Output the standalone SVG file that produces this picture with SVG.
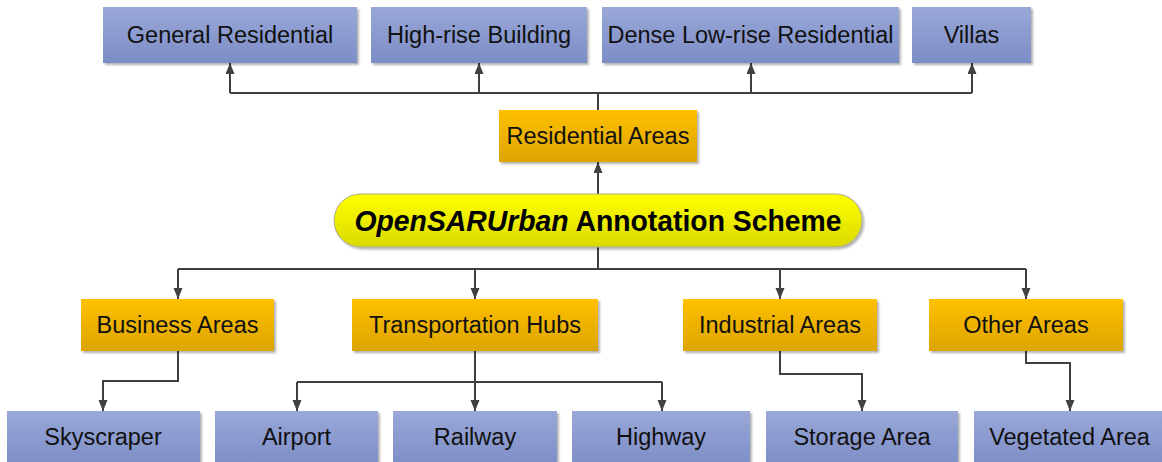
<svg xmlns="http://www.w3.org/2000/svg" width="1162" height="462" viewBox="0 0 1162 462">
<defs>
<linearGradient id="gBlue" x1="0" y1="0" x2="0" y2="1">
<stop offset="0" stop-color="#9AA8D8"/><stop offset="1" stop-color="#7C8DC6"/>
</linearGradient>
<linearGradient id="gOrange" x1="0" y1="0" x2="0" y2="1">
<stop offset="0" stop-color="#FFC000"/><stop offset="1" stop-color="#DCA500"/>
</linearGradient>
<linearGradient id="gYellow" x1="0" y1="0" x2="0" y2="1">
<stop offset="0" stop-color="#FFFF00"/><stop offset="1" stop-color="#DADA00"/>
</linearGradient>
<filter id="shadow" x="-5%" y="-10%" width="115%" height="130%">
<feGaussianBlur in="SourceAlpha" stdDeviation="1.2"/>
<feOffset dx="2" dy="2" result="b"/>
<feComponentTransfer><feFuncA type="linear" slope="0.3"/></feComponentTransfer>
<feMerge><feMergeNode/><feMergeNode in="SourceGraphic"/></feMerge>
</filter>
<marker id="arr" markerUnits="userSpaceOnUse" markerWidth="12" markerHeight="10" refX="11" refY="4.5" orient="auto">
<path d="M0,0 L11,4.5 L0,9 z" fill="#404040"/>
</marker>
</defs>
<style>
.blue{fill:url(#gBlue);filter:url(#shadow)}
.orange{fill:url(#gOrange);filter:url(#shadow)}
.pill{fill:url(#gYellow);stroke:#A8A890;stroke-width:1;filter:url(#shadow)}
.t{font-family:"Liberation Sans",Arial,sans-serif;font-size:23.5px;fill:#111;text-anchor:middle}
.tc{font-family:"Liberation Sans",Arial,sans-serif;font-size:30px;font-weight:bold;fill:#000;text-anchor:middle}
.c{fill:none;stroke:#404040;stroke-width:2}
.a{fill:none;stroke:#404040;stroke-width:2;marker-end:url(#arr)}
</style>
<rect width="1162" height="462" fill="#FFFFFF"/>
<g id="connectors">
<path class="c" d="M230,93 H972 M598,110 V93"/>
<path class="a" d="M230,93 V63"/>
<path class="a" d="M479,93 V63"/>
<path class="a" d="M751,93 V63"/>
<path class="a" d="M972,93 V63"/>
<path class="a" d="M598,194 V162"/>
<path class="c" d="M598,247 V269 M178,269 H1026"/>
<path class="a" d="M178,269 V299"/>
<path class="a" d="M475,269 V299"/>
<path class="a" d="M780,269 V299"/>
<path class="a" d="M1026,269 V299"/>
<path class="a" d="M178,351 V381 H103 V411"/>
<path class="a" d="M475,351 V411"/>
<path class="c" d="M297,382 H662"/>
<path class="a" d="M297,382 V411"/>
<path class="a" d="M662,382 V411"/>
<path class="a" d="M780,351 V374 H862 V411"/>
<path class="a" d="M1026,351 V363 H1070 V411"/>
</g>
<g id="general-residential"><rect class="blue" x="103" y="7" width="254" height="56"/><text class="t" x="230" y="43">General Residential</text></g>
<g id="high-rise-building"><rect class="blue" x="371" y="7" width="216" height="56"/><text class="t" x="479" y="43">High-rise Building</text></g>
<g id="dense-low-rise"><rect class="blue" x="602" y="7" width="297" height="56"/><text class="t" x="750.5" y="43">Dense Low-rise Residential</text></g>
<g id="villas"><rect class="blue" x="912" y="7" width="119" height="56"/><text class="t" x="971.5" y="43">Villas</text></g>
<g id="residential-areas"><rect class="orange" x="499" y="110" width="198" height="52"/><text class="t" x="598" y="144">Residential Areas</text></g>
<g id="scheme"><rect class="pill" x="334" y="194" width="528" height="53" rx="26.5" ry="26.5"/><text class="tc" x="598" y="231" textLength="487" lengthAdjust="spacingAndGlyphs"><tspan font-style="italic">OpenSARUrban</tspan> Annotation Scheme</text></g>
<g id="business-areas"><rect class="orange" x="81" y="299" width="193" height="52"/><text class="t" x="177.5" y="333">Business Areas</text></g>
<g id="transportation-hubs"><rect class="orange" x="352" y="299" width="246" height="52"/><text class="t" x="475" y="333">Transportation Hubs</text></g>
<g id="industrial-areas"><rect class="orange" x="683" y="299" width="194" height="52"/><text class="t" x="780" y="333">Industrial Areas</text></g>
<g id="other-areas"><rect class="orange" x="929" y="299" width="194" height="52"/><text class="t" x="1026" y="333">Other Areas</text></g>
<g id="skyscraper"><rect class="blue" x="7" y="411" width="193" height="56"/><text class="t" x="103" y="445">Skyscraper</text></g>
<g id="airport"><rect class="blue" x="215" y="411" width="163" height="56"/><text class="t" x="296.5" y="445">Airport</text></g>
<g id="railway"><rect class="blue" x="393" y="411" width="164" height="56"/><text class="t" x="475" y="445">Railway</text></g>
<g id="highway"><rect class="blue" x="572" y="411" width="178" height="56"/><text class="t" x="661" y="445">Highway</text></g>
<g id="storage-area"><rect class="blue" x="766" y="411" width="192" height="56"/><text class="t" x="862" y="445">Storage Area</text></g>
<g id="vegetated-area"><rect class="blue" x="974" y="411" width="192" height="56"/><text class="t" x="1069.5" y="445">Vegetated Area</text></g>
</svg>
